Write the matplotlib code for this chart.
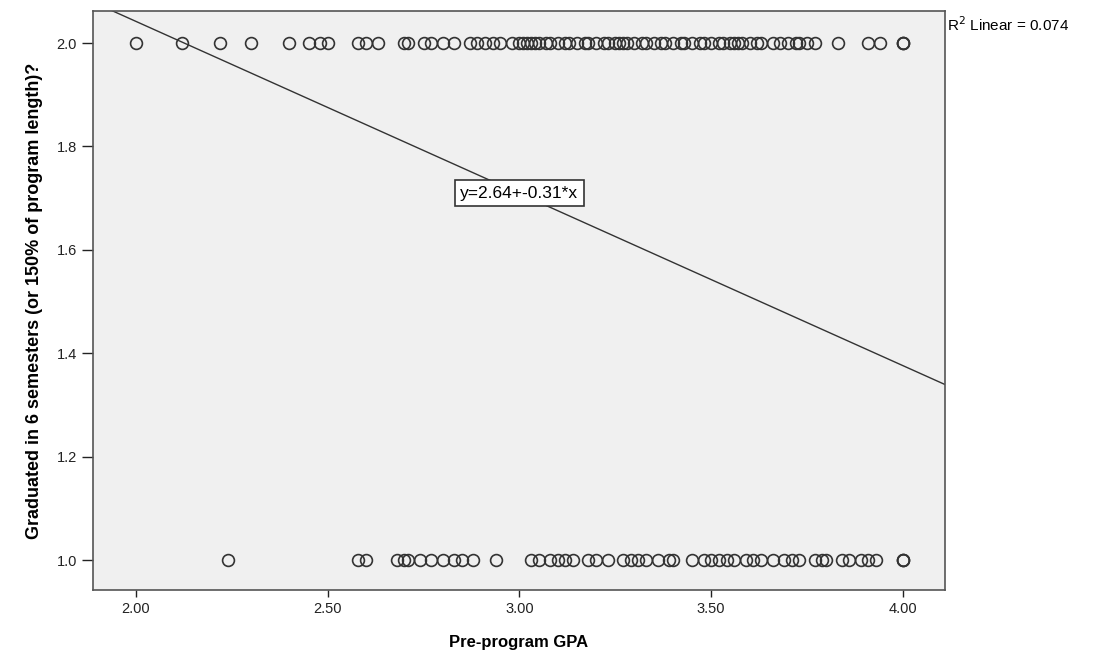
import numpy as np
import matplotlib.pyplot as plt

# GPA values of students coded 2 on the outcome
gpa_grad2 = [2.00, 2.12, 2.22, 2.30, 2.40, 2.45, 2.48, 2.50, 2.58, 2.60, 2.63,
             2.70, 2.71, 2.75, 2.77, 2.80, 2.83, 2.87, 2.89, 2.91, 2.93, 2.95,
             2.98, 3.00, 3.01, 3.02, 3.03, 3.04, 3.05, 3.07, 3.08, 3.10, 3.12,
             3.13, 3.15, 3.17, 3.18, 3.20, 3.22, 3.23, 3.25, 3.26, 3.27, 3.28,
             3.30, 3.32, 3.33, 3.35, 3.37, 3.38, 3.40, 3.42, 3.43, 3.45, 3.47,
             3.48, 3.50, 3.52, 3.53, 3.55, 3.56, 3.57, 3.58, 3.60, 3.62, 3.63,
             3.66, 3.68, 3.70, 3.72, 3.73, 3.75, 3.77, 3.83, 3.91, 3.94,
             4.00, 4.00, 4.00]

# GPA values of students coded 1 on the outcome
gpa_grad1 = [2.24, 2.58, 2.60, 2.68, 2.70, 2.71, 2.74, 2.77, 2.80, 2.83, 2.85,
             2.88, 2.94, 3.03, 3.05, 3.08, 3.10, 3.12, 3.14, 3.18, 3.20, 3.23,
             3.27, 3.29, 3.31, 3.33, 3.36, 3.39, 3.40, 3.45, 3.48, 3.50, 3.52,
             3.54, 3.56, 3.59, 3.61, 3.63, 3.66, 3.69, 3.71, 3.73, 3.77, 3.79,
             3.80, 3.84, 3.86, 3.89, 3.91, 3.93, 4.00, 4.00, 4.00]

# fit line (drawn as it appears) and its printed equation
line_intercept = 2.708
line_slope = -0.333
fit_label = 'y=2.64+-0.31*x'
r2_label = 'R$^2$ Linear = 0.074'

x_ticks = [2.0, 2.5, 3.0, 3.5, 4.0]
y_ticks = [1.0, 1.2, 1.4, 1.6, 1.8, 2.0]

plt.rcParams['font.family'] = ['Liberation Sans', 'DejaVu Sans']

fig = plt.figure(figsize=(10.99, 6.5), dpi=100)
ax = fig.add_axes([0.0846, 0.0923, 0.7754, 0.8907])
ax.set_facecolor('#f0f0f0')

edge = '#333333'
ax.plot(gpa_grad2, [2.0] * len(gpa_grad2), 'o', ms=8.5, mfc='none',
        mec=edge, mew=1.2)
ax.plot(gpa_grad1, [1.0] * len(gpa_grad1), 'o', ms=8.5, mfc='none',
        mec=edge, mew=1.2)

xmin, xmax = 1.888, 4.11
xl = np.array([xmin, xmax])
ax.plot(xl, line_intercept + line_slope * xl, color=edge, lw=1)

ax.set_xlim(xmin, xmax)
ax.set_ylim(0.942, 2.062)
ax.set_xticks(x_ticks)
ax.set_xticklabels([f'{v:.2f}' for v in x_ticks])
ax.set_yticks(y_ticks)
ax.set_yticklabels([f'{v:.1f}' for v in y_ticks])
ax.tick_params(direction='out', width=1, colors='#222222',
               labelsize=10.5, labelcolor='#222222')
ax.tick_params(axis='y', length=8)
ax.tick_params(axis='x', length=5)

for s in ax.spines.values():
    s.set_color('#555555')
    s.set_linewidth(1.2)

ax.set_xlabel('Pre-program GPA', fontsize=12, fontweight='bold', labelpad=14)
ax.set_ylabel('Graduated in 6 semesters (or 150% of program length)?',
              fontsize=13, fontweight='bold', labelpad=10)

ax.text(3.0, 1.71, fit_label, ha='center', va='center', fontsize=12.5,
        bbox=dict(boxstyle='square,pad=0.3', fc='white', ec='#333333', lw=1.2))

fig.text(0.862, 0.962, r2_label, fontsize=11, va='center')

fig.savefig('out.png', dpi=100)
